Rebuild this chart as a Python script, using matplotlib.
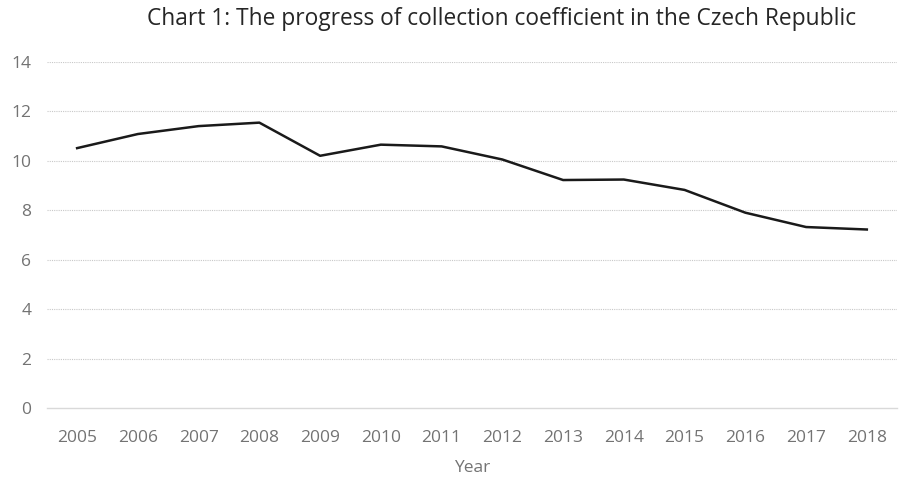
import matplotlib.pyplot as plt

years = ["2005", "2006", "2007", "2008", "2009", "2010", "2011",
         "2012", "2013", "2014", "2015", "2016", "2017", "2018"]
coefficient = [10.51, 11.08, 11.40, 11.54, 10.20, 10.65, 10.58,
               10.05, 9.22, 9.24, 8.82, 7.90, 7.32, 7.22]
y_ticks = [0, 2, 4, 6, 8, 10, 12, 14]

plt.rcParams['font.family'] = ['Open Sans', 'DejaVu Sans']

fig = plt.figure(figsize=(8.99, 4.79), dpi=100)
ax = fig.add_axes([0.052, 0.148, 0.946, 0.723])

x = list(range(len(years)))
ax.plot(x, coefficient, color='#1a1a1a', linewidth=1.8, zorder=3)

ax.set_xlim(-0.5, len(years) - 0.5)
ax.set_ylim(0, 14)
ax.set_yticks(y_ticks)
ax.set_xticks(x)
ax.set_xticklabels(years)

# dotted grid, solid base line
for t in y_ticks[1:]:
  ax.axhline(t, color='#c8c8c8', linewidth=0.8, linestyle=(0, (1, 1)), zorder=1)
for s in ['top', 'right', 'left']:
  ax.spines[s].set_visible(False)
ax.spines['bottom'].set_color('#d9d9d9')
ax.spines['bottom'].set_linewidth(1.0)

ax.tick_params(axis='both', length=0, labelsize=12.5, labelcolor='#737373')
ax.tick_params(axis='x', pad=15.5)
ax.tick_params(axis='y', pad=11)

ax.set_xlabel("Year", fontsize=12.5, color='#737373', labelpad=10)
fig.suptitle("Chart 1: The progress of collection coefficient in the Czech Republic",
             fontsize=16.4, color='#262626', x=0.558, y=0.985)

fig.savefig("out.png", dpi=100)
